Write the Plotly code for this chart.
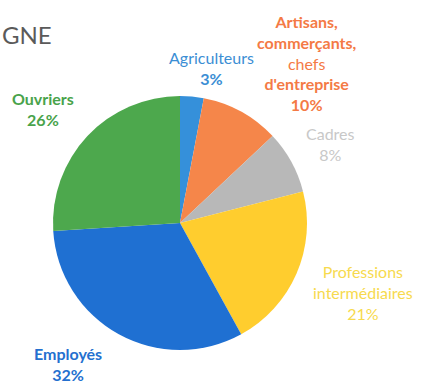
import plotly.graph_objects as go

labels = ["Agriculteurs", "Artisans, commerçants, chefs d'entreprise", "Cadres",
          "Professions intermédiaires", "Employés", "Ouvriers"]
values = [3, 10, 8, 21, 32, 26]
colors = ["#3590DA", "#F5864A", "#B8B8B8", "#FFCD2E", "#1F70D2", "#4DA84D"]

# label text, position (px from top-left), colour
label_texts = [
    ("Agriculteurs<br><b>3%</b>", 211, 68, "#3B8ED4"),
    ("<b>Artisans,<br>commerçants,</b><br>chefs<br><b>d'entreprise<br>10%</b>", 307, 63, "#F47A45"),
    ("Cadres<br>8%", 330, 144, "#C8C8C8"),
    ("Professions<br>intermédiaires<br>21%", 363, 292, "#F7DA4E"),
    ("<b>Ouvriers<br>26%</b>", 43, 109, "#49A34B"),
    ("<b>Employés<br>32%</b>", 68, 364, "#2470CF"),
]

W, H = 422, 383
cx, cy, r = 180, 223, 127  # pie placement in px

fig = go.Figure()
fig.add_trace(go.Pie(
    labels=labels,
    values=values,
    marker=dict(colors=colors, line=dict(width=0)),
    sort=False,
    direction="clockwise",
    rotation=0,
    textinfo="none",
    hoverinfo="label+percent",
    domain=dict(x=[(cx - r) / W, (cx + r) / W], y=[(H - cy - r) / H, (H - cy + r) / H]),
    showlegend=False,
))

for txt, x, y, col in label_texts:
    fig.add_annotation(
        x=x / W, y=1 - y / H, xref="paper", yref="paper",
        text=txt, showarrow=False, xanchor="center", yanchor="middle",
        align="center", font=dict(color=col, size=16, family="Lato"),
    )

# title fragment in top-left corner
fig.add_annotation(
    x=0, y=1 - 34 / H, xref="paper", yref="paper", text="GNE",
    showarrow=False, xanchor="left", yanchor="middle",
    font=dict(color="#5A5A5A", size=24, family="Lato"),
)

fig.update_layout(
    width=W, height=H,
    margin=dict(l=0, r=0, t=0, b=0),
    paper_bgcolor="white",
    plot_bgcolor="white",
)

# drop the default 8px page margin so the figure fills the window
fig.write_html("out.html", config={"displayModeBar": False},
               post_script="document.body.style.margin='0';")
